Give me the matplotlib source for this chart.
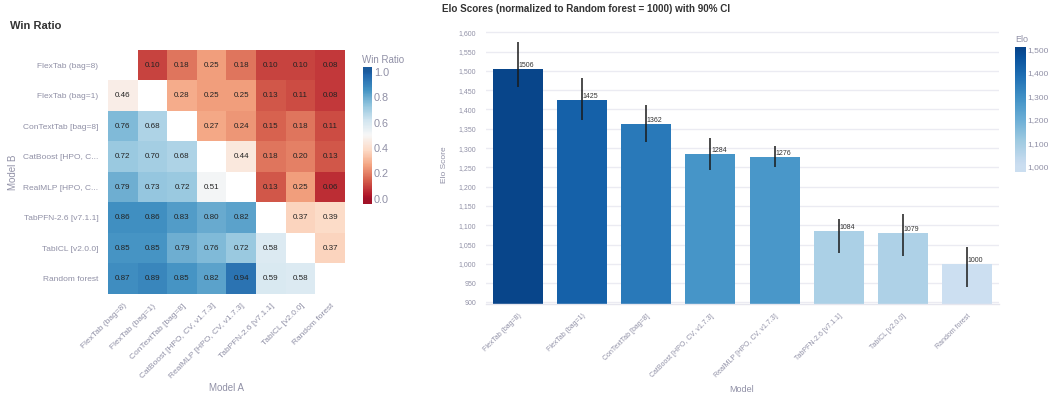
import numpy as np
import matplotlib
matplotlib.use("Agg")
import matplotlib.pyplot as plt
from matplotlib.colors import LinearSegmentedColormap, Normalize

plt.rcParams['font.family'] = ['Liberation Sans', 'DejaVu Sans']

# ---------------- data ----------------
models = ["FlexTab (bag=8)", "FlexTab (bag=1)", "ConTextTab [bag=8]",
          "CatBoost [HPO, CV, v1.7.3]", "RealMLP [HPO, CV, v1.7.3]",
          "TabPFN-2.6 [v7.1.1]", "TabICL [v2.0.0]", "Random forest"]
model_b_labels = ["FlexTab (bag=8)", "FlexTab (bag=1)", "ConTextTab [bag=8]",
                  "CatBoost [HPO, C...", "RealMLP [HPO, C...",
                  "TabPFN-2.6 [v7.1.1]", "TabICL [v2.0.0]", "Random forest"]
nan = np.nan
win_ratio = np.array([
    [nan, 0.10, 0.18, 0.25, 0.18, 0.10, 0.10, 0.08],
    [0.46, nan, 0.28, 0.25, 0.25, 0.13, 0.11, 0.08],
    [0.76, 0.68, nan, 0.27, 0.24, 0.15, 0.18, 0.11],
    [0.72, 0.70, 0.68, nan, 0.44, 0.18, 0.20, 0.13],
    [0.79, 0.73, 0.72, 0.51, nan, 0.13, 0.25, 0.06],
    [0.86, 0.86, 0.83, 0.80, 0.82, nan, 0.37, 0.39],
    [0.85, 0.85, 0.79, 0.76, 0.72, 0.58, nan, 0.37],
    [0.87, 0.89, 0.85, 0.82, 0.94, 0.59, 0.58, nan],
])

elo = [1506, 1425, 1362, 1284, 1276, 1084, 1079, 1000]
ci_low = [1459, 1373, 1317, 1242, 1252, 1029, 1020, 939]
ci_high = [1576, 1481, 1412, 1325, 1306, 1116, 1129, 1044]
elo_ticks = list(range(900, 1601, 50))
elo_cbar_ticks = [1000, 1100, 1200, 1300, 1400, 1500]
win_cbar_ticks = [0.0, 0.2, 0.4, 0.6, 0.8, 1.0]

# ---------------- style ----------------
W, H = 1052, 394
GRAY = '#9090a6'
DARK = '#333333'
rd = plt.get_cmap('RdBu')
cmap_win = LinearSegmentedColormap.from_list('rdbu_t', rd(np.linspace(0.08, 0.92, 256)))
cmap_win.set_bad('white')
bl = plt.get_cmap('Blues')
cmap_elo = LinearSegmentedColormap.from_list('blues_t', bl(np.linspace(0.22, 0.92, 256)))


def box(x0, y0, x1, y1):
    return [x0 / W, 1 - y1 / H, (x1 - x0) / W, (y1 - y0) / H]


fig = plt.figure(figsize=(W / 100, H / 100), dpi=100)
fig.patch.set_facecolor('white')

# ---------------- heatmap ----------------
ax1 = fig.add_axes(box(108, 50, 345, 294))
ax1.imshow(np.ma.masked_invalid(win_ratio), cmap=cmap_win, vmin=0, vmax=1,
           aspect='auto', interpolation='nearest')
n = len(models)
for i in range(n):
    for j in range(n):
        v = win_ratio[i, j]
        if not np.isnan(v):
            ax1.text(j, i, f"{v:.2f}", ha='center', va='center', fontsize=5.8, color='#222222')
ax1.set_xticks(range(n))
ax1.set_xticklabels(models, rotation=45, ha='right', va='top', rotation_mode='anchor',
                    fontsize=6, color=GRAY)
ax1.set_yticks(range(n))
ax1.set_yticklabels(model_b_labels, fontsize=6, color=GRAY)
ax1.tick_params(axis='both', length=0)
ax1.tick_params(axis='y', pad=7)
ax1.tick_params(axis='x', pad=6)
for s in ax1.spines.values():
    s.set_visible(False)

fig.text(10 / W, 1 - 26 / H, 'Win Ratio', fontsize=8, fontweight='bold', color=DARK,
         ha='left', va='center')
fig.text(226.5 / W, 1 - 388 / H, 'Model A', fontsize=7, color=GRAY, ha='center', va='center')
fig.text(13 / W, 1 - 172 / H, 'Model B', fontsize=7, color=GRAY, ha='center', va='center',
         rotation=90)

# win ratio colorbar
cax1 = fig.add_axes(box(362.7, 66.7, 371, 204))
grad = np.linspace(-0.04, 1.04, 256).reshape(-1, 1)
cax1.imshow(grad, cmap=cmap_win, vmin=0, vmax=1, aspect='auto', origin='lower',
            extent=[0, 1, -0.04, 1.04])
cax1.set_ylim(-0.04, 1.04)
cax1.set_xticks([])
cax1.yaxis.tick_right()
cax1.set_yticks(win_cbar_ticks)
cax1.set_yticklabels([f"{t:.1f}" for t in win_cbar_ticks], fontsize=7.8, color=GRAY)
cax1.tick_params(axis='y', length=0, pad=2)
for s in cax1.spines.values():
    s.set_visible(False)
fig.text(362 / W, 1 - 60 / H, 'Win Ratio', fontsize=7, color=GRAY, ha='left', va='center')

# ---------------- Elo bar chart ----------------
ax2 = fig.add_axes(box(486, 26.5, 999, 304))
x = np.arange(len(models))
norm = Normalize(vmin=min(elo), vmax=max(elo))
ax2.bar(x, elo, width=0.78, color=cmap_elo(norm(np.array(elo))), zorder=2)
yerr = [np.array(elo) - np.array(ci_low), np.array(ci_high) - np.array(elo)]
ax2.errorbar(x, elo, yerr=yerr, fmt='none', ecolor='#1a1a1a', elinewidth=1.1, capsize=0, zorder=3)
for xi, v in zip(x, elo):
    ax2.text(xi + 0.01, v, f"{v}", ha='left', va='bottom', fontsize=5, color=DARK, zorder=4)
ax2.set_xlim(-0.5, len(models) - 0.5)
ax2.set_ylim(896, 1615)
ax2.set_yticks(elo_ticks)
ax2.set_yticklabels([f"{t:,}" for t in elo_ticks], fontsize=5, color=GRAY)
ax2.set_xticks(x)
ax2.set_xticklabels(models, rotation=45, ha='right', va='top', rotation_mode='anchor',
                    fontsize=5, color=GRAY)
ax2.tick_params(axis='both', length=0)
ax2.tick_params(axis='y', pad=7)
ax2.tick_params(axis='x', pad=6)
ax2.yaxis.grid(True, color='#ebebf2', linewidth=1.0, zorder=0)
ax2.set_axisbelow(True)
for k in ['top', 'right', 'left']:
    ax2.spines[k].set_visible(False)
ax2.spines['bottom'].set_color('#e6e6ee')
ax2.spines['bottom'].set_linewidth(1.0)

fig.text(441.7 / W, 1 - 9 / H, 'Elo Scores (normalized to Random forest = 1000) with 90% CI',
         fontsize=7.1, fontweight='bold', color=DARK, ha='left', va='center')
fig.text(445 / W, 1 - 165 / H, 'Elo Score', fontsize=6, color=GRAY, ha='center', va='center',
         rotation=90)
fig.text(742 / W, 1 - 389 / H, 'Model', fontsize=6.5, color=GRAY, ha='center', va='center')

# Elo colorbar
cax2 = fig.add_axes(box(1015, 46.7, 1025.7, 171.7))
grad2 = np.linspace(979, 1510, 256).reshape(-1, 1)
cax2.imshow(grad2, cmap=cmap_elo, vmin=min(elo), vmax=max(elo), aspect='auto', origin='lower',
            extent=[0, 1, 979, 1510])
cax2.set_ylim(979, 1510)
cax2.set_xticks([])
cax2.yaxis.tick_right()
cax2.set_yticks(elo_cbar_ticks)
cax2.set_yticklabels([f"{t:,}" for t in elo_cbar_ticks], fontsize=6, color=GRAY)
cax2.tick_params(axis='y', length=0, pad=1)
for s in cax2.spines.values():
    s.set_visible(False)
fig.text(1015 / W, 1 - 40 / H, 'Elo', fontsize=6.5, color=GRAY, ha='left', va='center')

fig.savefig('out.png', dpi=100, facecolor='white')
